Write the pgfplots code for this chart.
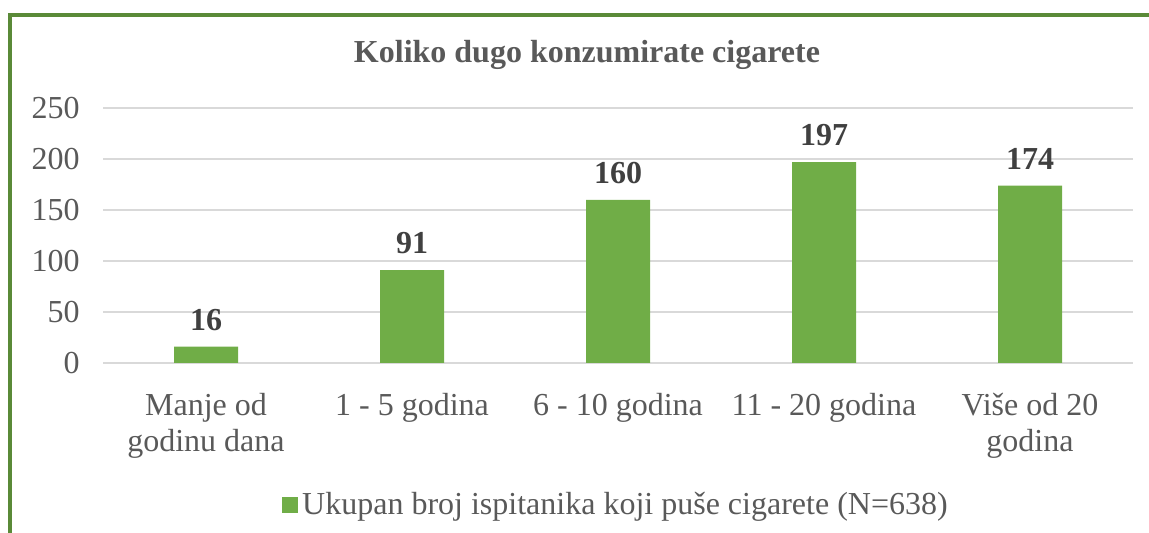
\documentclass[border=0pt]{standalone}
\usepackage{pgfplots}
\pgfplotsset{compat=1.18}
\usepackage{fontspec}
\setmainfont{Liberation Serif}
\definecolor{bargreen}{HTML}{70AD47}
\definecolor{framegreen}{HTML}{5A8A38}
\definecolor{txt}{HTML}{595959}
\definecolor{lbl}{HTML}{404040}
\definecolor{gridc}{HTML}{D9D9D9}
\begin{document}
\begin{tikzpicture}
\begin{axis}[
  name=ax,
  scale only axis, width=515pt, height=127.5pt,
  xmin=-0.5, xmax=4.5, ymin=0, ymax=250,
  ytick={0,50,100,150,200,250},
  xtick=data,
  xticklabels={Manje od\\godinu dana, 1 - 5 godina, 6 - 10 godina, 11 - 20 godina, Više od 20\\godina},
  ybar, bar width=32pt,
  axis line style={draw=none},
  major tick length=0pt,
  ymajorgrids, grid style={gridc, line width=0.8pt},
  clip=false,
  /pgf/number format/assume math mode=true,
  ticklabel style={font=\fontsize{16}{18}\selectfont, text=txt},
  yticklabel style={xshift=-8.2pt},
  xticklabel style={align=center, yshift=-11.5pt},
  nodes near coords,
  nodes near coords style={font=\bfseries\fontsize{16}{18}\selectfont, text=lbl, yshift=4.5pt},
  legend style={at={(0.499,-0.557)}, anchor=center, draw=none, fill=none,
    font=\fontsize{16}{18}\selectfont, text=txt},
  legend image code/.code={\fill[bargreen] (-3pt,-4pt) rectangle (5pt,4pt);},
]
\addplot[fill=bargreen, draw=none] coordinates {(0,16) (1,91) (2,160) (3,197) (4,174)};
\addlegendentry{Ukupan broj ispitanika koji puše cigarete (N=638)}
\end{axis}
\begin{scope}[shift={(ax.south west)}, x=1pt, y=1pt]
\useasboundingbox (-51.5,-85) rectangle (523,181.5);
\begin{scope}
\clip (-51.5,-85) rectangle (523,181.5);
\draw[framegreen, line width=1.6pt] (-46.5,-120) -- (-46.5,174) -- (600,174);
\end{scope}
\node[txt, font=\bfseries\fontsize{16}{18}\selectfont] at (242,154) {Koliko dugo konzumirate cigarete};
\end{scope}
\end{tikzpicture}
\end{document}
